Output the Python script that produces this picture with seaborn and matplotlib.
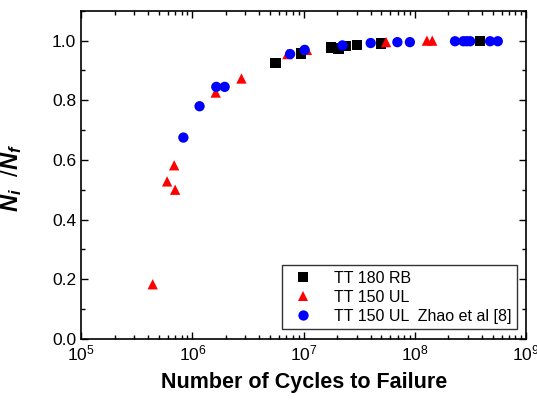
import numpy as np
import pandas as pd
import matplotlib
matplotlib.use("Agg")
import matplotlib.pyplot as plt
import seaborn as sns
from matplotlib.ticker import MultipleLocator, LogLocator, NullFormatter, FormatStrFormatter

# data
rb_cycles = [5.57e6, 9.5e6, 1.75e7, 2.05e7, 2.39e7, 3.0e7, 4.96e7, 3.85e8]
rb_ratio = [0.924, 0.957, 0.977, 0.974, 0.983, 0.986, 0.990, 0.998]

ul_cycles = [4.4e5, 5.93e5, 6.86e5, 7.0e5, 1.62e6, 2.76e6, 7.15e6, 1.07e7, 5.5e7, 1.28e8, 1.43e8]
ul_ratio = [0.183, 0.528, 0.582, 0.500, 0.826, 0.873, 0.955, 0.969, 0.995, 1.0, 1.0]

zhao_cycles = [8.3e5, 1.16e6, 1.64e6, 1.95e6, 7.55e6, 1.02e7, 2.23e7, 4.0e7, 6.95e7, 9.0e7,
               2.29e8, 2.72e8, 2.92e8, 3.13e8, 4.73e8, 5.55e8]
zhao_ratio = [0.675, 0.780, 0.845, 0.845, 0.955, 0.969, 0.984, 0.992, 0.995, 0.995,
              0.998, 0.998, 0.998, 0.998, 0.998, 0.998]

labels = ["TT 180 RB", "TT 150 UL", "TT 150 UL  Zhao et al [8]"]

df = pd.concat([
    pd.DataFrame({"cycles": rb_cycles, "ratio": rb_ratio, "series": labels[0]}),
    pd.DataFrame({"cycles": ul_cycles, "ratio": ul_ratio, "series": labels[1]}),
    pd.DataFrame({"cycles": zhao_cycles, "ratio": zhao_ratio, "series": labels[2]}),
])

sns.set_style("ticks", {"axes.edgecolor": "black", "text.color": "black",
                        "xtick.color": "black", "ytick.color": "black",
                        "axes.labelcolor": "black"})
plt.rcParams["font.family"] = ["Liberation Sans", "DejaVu Sans"]
plt.rcParams["mathtext.fontset"] = "custom"
plt.rcParams["mathtext.bf"] = "Liberation Sans:bold:italic"
plt.rcParams["mathtext.rm"] = "Liberation Sans"

fig = plt.figure(figsize=(5.37, 4.01), dpi=100)
ax = fig.add_axes([0.151, 0.155, 0.829, 0.818])

sns.scatterplot(data=df, x="cycles", y="ratio", hue="series", style="series",
                palette=["black", "red", "blue"], markers=["s", "^", "o"],
                s=55, linewidth=0, ax=ax, legend=True)

ax.set_xscale("log")
ax.set_xlim(1e5, 1e9)
ax.set_ylim(0, 1.1)
ax.yaxis.set_major_locator(MultipleLocator(0.2))
ax.yaxis.set_minor_locator(MultipleLocator(0.1))
ax.xaxis.set_major_locator(LogLocator(base=10, numticks=10))
ax.xaxis.set_minor_locator(LogLocator(base=10, subs=np.arange(2, 10), numticks=20))
ax.xaxis.set_minor_formatter(NullFormatter())
ax.yaxis.set_major_formatter(FormatStrFormatter("%.1f"))

ax.tick_params(which="both", direction="in", top=True, right=True, labelsize=12.5, width=1)
ax.tick_params(which="major", length=5)
ax.tick_params(which="minor", length=3)
for sp in ax.spines.values():
    sp.set_linewidth(1.2)

ax.set_xlabel("Number of Cycles to Failure", fontsize=15.5, fontweight="bold", labelpad=6)
ax.set_ylabel(r"$\mathbf{N_i}$  /$\mathbf{N_f}$", fontsize=17)
ax.yaxis.set_label_coords(-0.128, 0.49)

leg = ax.legend(loc="lower right", frameon=True, fontsize=11.5, fancybox=False,
                edgecolor="black", borderaxespad=0.6, handletextpad=0.9,
                borderpad=0.35, labelspacing=0.25)
leg.get_frame().set_linewidth(1.0)

fig.savefig("out.png", dpi=100)
